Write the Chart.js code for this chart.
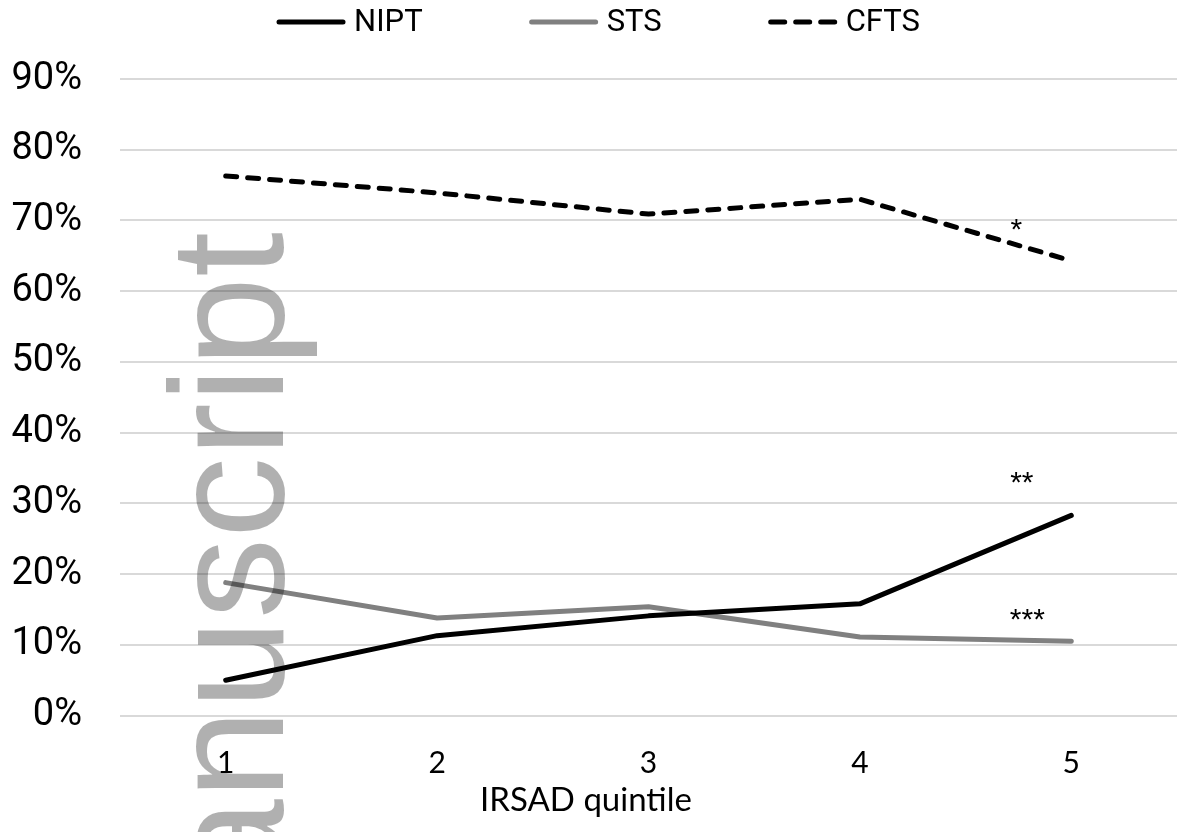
<!DOCTYPE html>
<html>
<head>
<meta charset="utf-8">
<script src="https://cdn.jsdelivr.net/npm/chart.js@4"></script>
<style>
  html, body { margin: 0; padding: 0; background: #fff; }
</style>
</head>
<body>
<canvas id="chart" width="1188" height="832"></canvas>
<script>

// values (percent)
var quintiles = ['1', '2', '3', '4', '5'];
var nipt = [5.0, 11.3, 14.1, 15.8, 28.3];
var sts  = [18.8, 13.8, 15.4, 11.1, 10.5];
var cfts = [76.3, 73.9, 70.9, 73.0, 64.3];
var xTitle = 'IRSAD quintile';

// significance marks next to quintile 5
var marks = ['*', '**', '***'];
var markValues = [69.8, 34.0, 14.6];

var topLegend = {
    id: 'topLegend',
    afterDraw: function(chart) {
        var ctx = chart.ctx;
        var sets = chart.data.datasets;
        var box = 70, gap = 8, space = 106;
        ctx.save();
        ctx.font = '31px Roboto';
        var widths = sets.map(function(d){ return box + gap + ctx.measureText(d.label).width; });
        var total = widths.reduce(function(a, b){ return a + b; }, 0) + space * (sets.length - 1);
        var x = (chart.width - total) / 2 + 4, y = 22;
        sets.forEach(function(d, i){
            ctx.beginPath();
            ctx.strokeStyle = d.borderColor;
            ctx.lineWidth = d.borderWidth;
            ctx.lineCap = 'round';
            ctx.setLineDash(d.borderDash ? [14, 11] : []);
            ctx.moveTo(x + 3, y);
            ctx.lineTo(x + box - 3, y);
            ctx.stroke();
            ctx.setLineDash([]);
            ctx.fillStyle = '#000';
            ctx.textBaseline = 'middle';
            ctx.fillText(d.label, x + box + gap, y + 1);
            x += widths[i] + space;
        });
        ctx.restore();
    }
};

var starMarks = {
    id: 'starMarks',
    afterDatasetsDraw: function(chart) {
        var ctx = chart.ctx;
        var xs = chart.scales.x, ys = chart.scales.y;
        ctx.save();
        ctx.font = '30px "Liberation Sans"';
        ctx.fillStyle = '#000';
        ctx.textAlign = 'center';
        ctx.textBaseline = 'alphabetic';
        for (var i = 0; i < marks.length; i++) {
            var px = xs.getPixelForValue(quintiles.length - 1) - 55 + i * 5.5;
            ctx.fillText(marks[i], px, ys.getPixelForValue(markValues[i]) + 17);
        }
        ctx.restore();
    }
};

// axis title sits a little left of the plot centre in the original
var axisTitle = {
    id: 'axisTitle',
    afterDraw: function(chart) {
        var ctx = chart.ctx;
        ctx.save();
        ctx.font = '33px Lato';
        ctx.fillStyle = '#000';
        ctx.textAlign = 'center';
        ctx.textBaseline = 'alphabetic';
        ctx.fillText(xTitle, 586, 811);
        ctx.restore();
    }
};

// "Manuscript" stamp running up the left side
var stamp = {
    id: 'stamp',
    afterDraw: function(chart) {
        var ctx = chart.ctx;
        ctx.save();
        ctx.translate(283, 232);
        ctx.rotate(-Math.PI / 2);
        ctx.font = '162px "Liberation Sans"';
        ctx.fillStyle = 'rgba(0,0,0,0.31)';
        ctx.textAlign = 'right';
        ctx.textBaseline = 'alphabetic';
        ctx.fillText('Manuscript', 0, 0);
        ctx.restore();
    }
};

var lineStyle = {
    fill: false,
    pointRadius: 0,
    borderWidth: 5,
    tension: 0,
    borderCapStyle: 'round',
    borderJoinStyle: 'round'
};

new Chart(document.getElementById('chart'), {
    type: 'line',
    data: {
        labels: quintiles,
        datasets: [
            Object.assign({label: 'NIPT', data: nipt, borderColor: '#000000'}, lineStyle),
            Object.assign({label: 'STS', data: sts, borderColor: '#808080'}, lineStyle),
            Object.assign({label: 'CFTS', data: cfts, borderColor: '#000000', borderDash: [11, 11]}, lineStyle)
        ]
    },
    options: {
        responsive: false,
        devicePixelRatio: 1,
        animation: false,
        layout: { padding: { top: 79, right: 11, left: 0, bottom: 0 } },
        plugins: {
            legend: { display: false },
            tooltip: { enabled: false }
        },
        scales: {
            x: {
                offset: true,
                grid: { display: false, drawTicks: false },
                border: { display: false },
                ticks: { font: { family: 'Lato', size: 30 }, color: '#000', padding: 30 },
                afterFit: function(s){ s.height = 116.4; }
            },
            y: {
                min: 0,
                max: 90,
                grid: { color: '#d9d9d9', lineWidth: 2, drawTicks: false },
                border: { display: false },
                ticks: {
                    stepSize: 10,
                    font: { family: 'Roboto', size: 38 },
                    color: '#000',
                    padding: 38,
                    callback: function(v){ return v + '%'; }
                },
                afterFit: function(s){ s.width = 120; }
            }
        }
    },
    plugins: [topLegend, starMarks, axisTitle, stamp]
});
</script>
</body>
</html>
